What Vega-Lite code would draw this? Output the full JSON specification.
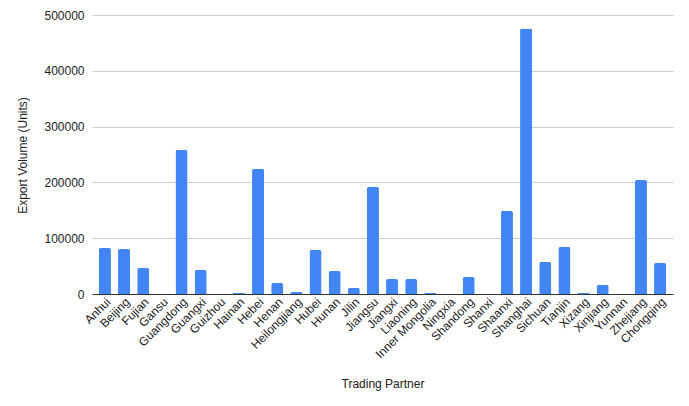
{
  "$schema": "https://vega.github.io/schema/vega-lite/v6.json",
  "autosize": "none",
  "padding": {"left": 92, "top": 15, "right": 16, "bottom": 112},
  "width": 581,
  "height": 279,
  "background": "white",
  "config": {
    "font": "Liberation Sans",
    "view": {"stroke": null}
  },
  "data": {
    "values": [
      {"partner": "Anhui", "volume": 82400},
      {"partner": "Beijing", "volume": 80600},
      {"partner": "Fujian", "volume": 46600},
      {"partner": "Gansu", "volume": 0},
      {"partner": "Guangdong", "volume": 258000},
      {"partner": "Guangxi", "volume": 43000},
      {"partner": "Guizhou", "volume": 0},
      {"partner": "Hainan", "volume": 1800},
      {"partner": "Hebei", "volume": 224000},
      {"partner": "Henan", "volume": 19700},
      {"partner": "Heilongjiang", "volume": 3600},
      {"partner": "Hubei", "volume": 78900},
      {"partner": "Hunan", "volume": 41200},
      {"partner": "Jilin", "volume": 10800},
      {"partner": "Jiangsu", "volume": 191800},
      {"partner": "Jiangxi", "volume": 26900},
      {"partner": "Liaoning", "volume": 26900},
      {"partner": "Inner Mongolia", "volume": 1800},
      {"partner": "Ningxia", "volume": 0},
      {"partner": "Shandong", "volume": 30500},
      {"partner": "Shanxi", "volume": 0},
      {"partner": "Shaanxi", "volume": 148700},
      {"partner": "Shanghai", "volume": 476000},
      {"partner": "Sichuan", "volume": 57300},
      {"partner": "Tianjin", "volume": 84200},
      {"partner": "Xizang", "volume": 1800},
      {"partner": "Xinjiang", "volume": 16100},
      {"partner": "Yunnan", "volume": 0},
      {"partner": "Zhejiang", "volume": 204300},
      {"partner": "Chongqing", "volume": 55600}
    ]
  },
  "mark": {"type": "bar", "color": "#4285F4", "cornerRadiusTopLeft": 2, "cornerRadiusTopRight": 2},
  "encoding": {
    "x": {
      "field": "partner",
      "type": "nominal",
      "sort": null,
      "scale": {"paddingInner": 0.37, "paddingOuter": 0.36},
      "title": "Trading Partner",
      "axis": {
        "labelAngle": -45,
        "labelAlign": "right",
        "labelBaseline": "top",
        "labelFontSize": 12,
        "labelColor": "#222222",
        "labelPadding": 2,
        "ticks": false,
        "domainColor": "#333333",
        "domainWidth": 1,
        "titleFontSize": 12,
        "titleFontWeight": "normal",
        "titleColor": "#222222",
        "titleY": 89,
        "titleBaseline": "middle"
      }
    },
    "y": {
      "field": "volume",
      "type": "quantitative",
      "scale": {"domain": [0, 500000], "nice": false},
      "title": "Export Volume (Units)",
      "axis": {
        "values": [0, 100000, 200000, 300000, 400000, 500000],
        "format": "d",
        "domain": false,
        "ticks": false,
        "gridColor": "#cccccc",
        "labelFontSize": 12,
        "labelColor": "#222222",
        "labelPadding": 8,
        "titleFontSize": 12,
        "titleFontWeight": "normal",
        "titleColor": "#222222",
        "titleX": -70,
        "titleY": 140,
        "titleAlign": "center",
        "titleBaseline": "middle"
      }
    }
  }
}
